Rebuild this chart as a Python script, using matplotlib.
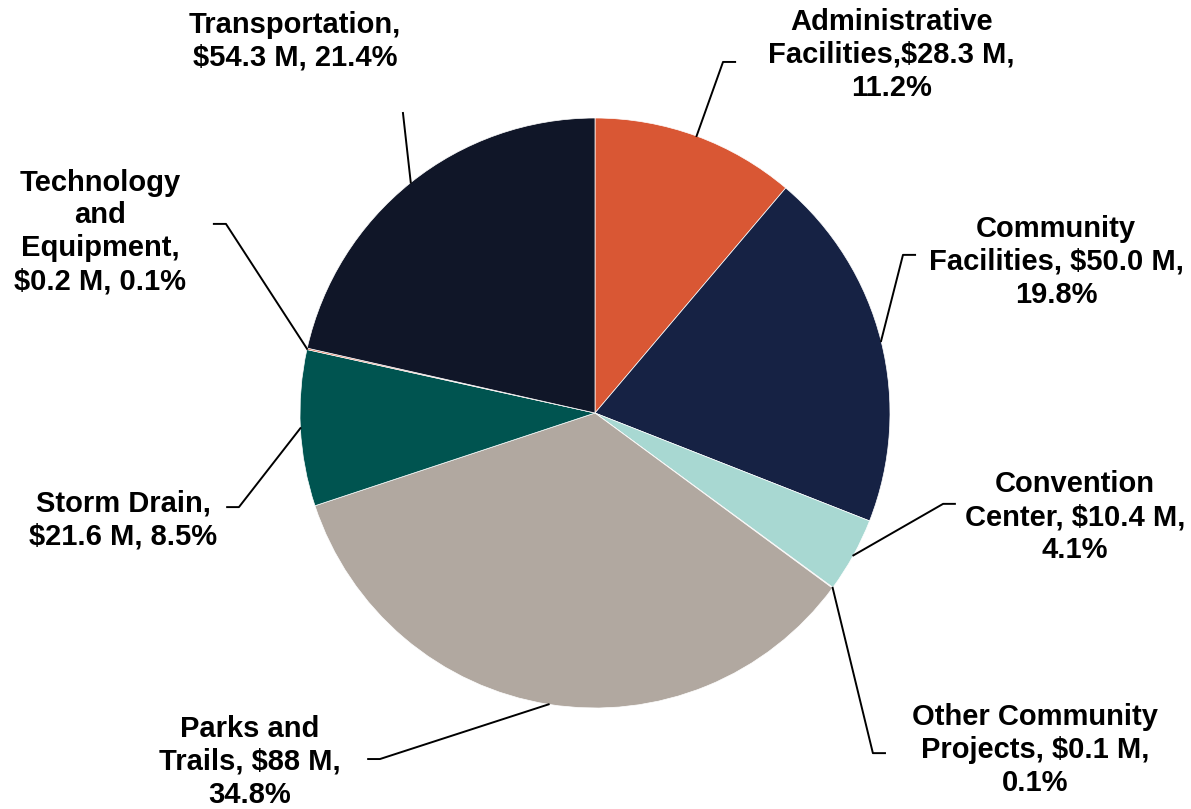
import numpy as np
import matplotlib
matplotlib.use("Agg")
import matplotlib.pyplot as plt

# slices, clockwise from 12 o'clock
categories = ["Administrative Facilities", "Community Facilities", "Convention Center",
              "Other Community Projects", "Parks and Trails", "Storm Drain",
              "Technology and Equipment", "Transportation"]
amounts = [28.3, 50.0, 10.4, 0.1, 88, 21.6, 0.2, 54.3]
labels = [
    "Administrative\nFacilities,$28.3 M,\n11.2%",
    "Community\nFacilities, $50.0 M,\n19.8%",
    "Convention\nCenter, $10.4 M,\n4.1%",
    "Other Community\nProjects, $0.1 M,\n0.1%",
    "Parks and\nTrails, $88 M,\n34.8%",
    "Storm Drain,\n$21.6 M, 8.5%",
    "Technology\nand\nEquipment,\n$0.2 M, 0.1%",
    "Transportation,\n$54.3 M, 21.4%",
]
colors = ["#D95734", "#162244", "#A8D8D2", "#7F7F7F",
          "#B1A8A0", "#005450", "#D95734", "#101628"]

# label layout (pie radius = 1): text centre, leader elbow, leader end
text_pos = [(1.005, 1.214), (1.563, 0.512), (1.627, -0.353), (1.492, -1.142),
            (-1.170, -1.183), (-1.600, -0.363), (-1.678, 0.614), (-1.017, 1.261)]
elbows = [(0.434, 1.190), (1.044, 0.536), (1.180, -0.308), (0.942, -1.153),
          (-0.729, -1.173), (-1.207, -0.319), (-1.251, 0.641), (-0.651, 1.017)]
ends = [(0.475, 1.190), (1.085, 0.536), (1.220, -0.308), (0.983, -1.153),
        (-0.769, -1.173), (-1.247, -0.319), (-1.292, 0.641), (-0.651, 1.017)]

plt.rcParams['font.family'] = ['Liberation Sans', 'DejaVu Sans']

fig = plt.figure(figsize=(11.91, 8.09), dpi=100)
ax = fig.add_axes([300 / 1191, 101 / 809, 590 / 1191, 590 / 809])

wedges, _ = ax.pie(amounts, colors=colors, startangle=90, counterclock=False,
                   radius=1, wedgeprops=dict(edgecolor="white", linewidth=0.5))

for w, lab, tp, el, en in zip(wedges, labels, text_pos, elbows, ends):
    ang = np.deg2rad((w.theta1 + w.theta2) / 2)
    start = (np.cos(ang), np.sin(ang))
    ax.plot([start[0], el[0], en[0]], [start[1], el[1], en[1]],
            color="black", lw=1.4, clip_on=False)
    ax.text(tp[0], tp[1], lab, ha="center", va="center", multialignment="center",
            fontsize=21, fontweight="bold", linespacing=1.22, clip_on=False)

ax.set_xlim(-1, 1)
ax.set_ylim(-1, 1)
ax.set_aspect("equal")
ax.axis("off")

fig.savefig("out.png", dpi=100)
